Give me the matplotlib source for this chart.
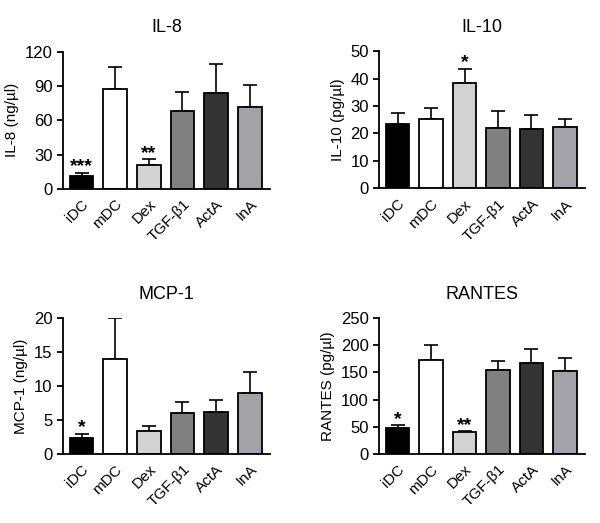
import matplotlib
matplotlib.use("Agg")
import matplotlib.pyplot as plt
import numpy as np

plt.rcParams['font.family'] = ['Liberation Sans', 'DejaVu Sans']

groups = ["iDC", "mDC", "Dex", "TGF-β1", "ActA", "InA"]
colors = ["#000000", "#ffffff", "#d2d2d2", "#808080", "#333333", "#a2a2a8"]

il8_mean = [11, 87, 21, 68, 84, 72]
il8_err = [3, 20, 5, 17, 25, 19]
il8_stars = ["***", "", "**", "", "", ""]

il10_mean = [23.5, 25.3, 38.3, 22.0, 21.8, 22.5]
il10_err = [3.8, 3.9, 5.4, 6.2, 5.0, 2.9]
il10_stars = ["", "", "*", "", "", ""]

mcp1_mean = [2.3, 13.9, 3.4, 6.0, 6.1, 8.9]
mcp1_err = [0.7, 6.1, 0.7, 1.7, 1.8, 3.1]
mcp1_stars = ["*", "", "", "", "", ""]

rantes_mean = [48, 172, 40, 155, 167, 153]
rantes_err = [5, 29, 2, 15, 26, 23]
rantes_stars = ["*", "", "**", "", "", ""]

panels = [
    ("IL-8", "IL-8 (ng/µl)", il8_mean, il8_err, il8_stars, (0, 120), [0, 30, 60, 90, 120],
     [0.105, 0.639, 0.345, 0.262]),
    ("IL-10", "IL-10 (pg/µl)", il10_mean, il10_err, il10_stars, (0, 50), [0, 10, 20, 30, 40, 50],
     [0.632, 0.640, 0.343, 0.262]),
    ("MCP-1", "MCP-1 (ng/µl)", mcp1_mean, mcp1_err, mcp1_stars, (0, 20), [0, 5, 10, 15, 20],
     [0.105, 0.132, 0.345, 0.260]),
    ("RANTES", "RANTES (pg/µl)", rantes_mean, rantes_err, rantes_stars, (0, 250), [0, 50, 100, 150, 200, 250],
     [0.632, 0.132, 0.343, 0.260]),
]

fig = plt.figure(figsize=(6.0, 5.23), dpi=100)

for title, ylabel, mean, err, stars, ylim, yticks, pos in panels:
    ax = fig.add_axes(pos)
    x = np.arange(len(groups))
    ax.bar(x, mean, width=0.7, color=colors, edgecolor="black", linewidth=1.3, zorder=2)
    ax.errorbar(x, mean, yerr=[np.zeros(len(err)), err], fmt="none", ecolor="black",
                elinewidth=1.2, capsize=5, capthick=1.2, zorder=1)
    span = ylim[1] - ylim[0]
    for xi, m, e, s in zip(x, mean, err, stars):
        if s:
            ax.text(xi, m + e - span * 0.02, s, ha="center", va="bottom", fontsize=14,
                    fontweight="bold")
    ax.set_xlim(-0.55, 5.6)
    ax.set_ylim(*ylim)
    ax.set_yticks(yticks)
    ax.set_xticks(x)
    ax.set_xticklabels(groups, rotation=45, ha="right", rotation_mode="anchor", fontsize=11)
    ax.tick_params(axis="y", labelsize=12, width=1.3, length=4)
    ax.tick_params(axis="x", length=0, pad=6)
    ax.set_ylabel(ylabel, fontsize=11)
    ax.set_title(title, fontsize=13, pad=14)
    for sp in ["top", "right"]:
        ax.spines[sp].set_visible(False)
    for sp in ["left", "bottom"]:
        ax.spines[sp].set_linewidth(1.3)

fig.savefig("out.png", dpi=100)
